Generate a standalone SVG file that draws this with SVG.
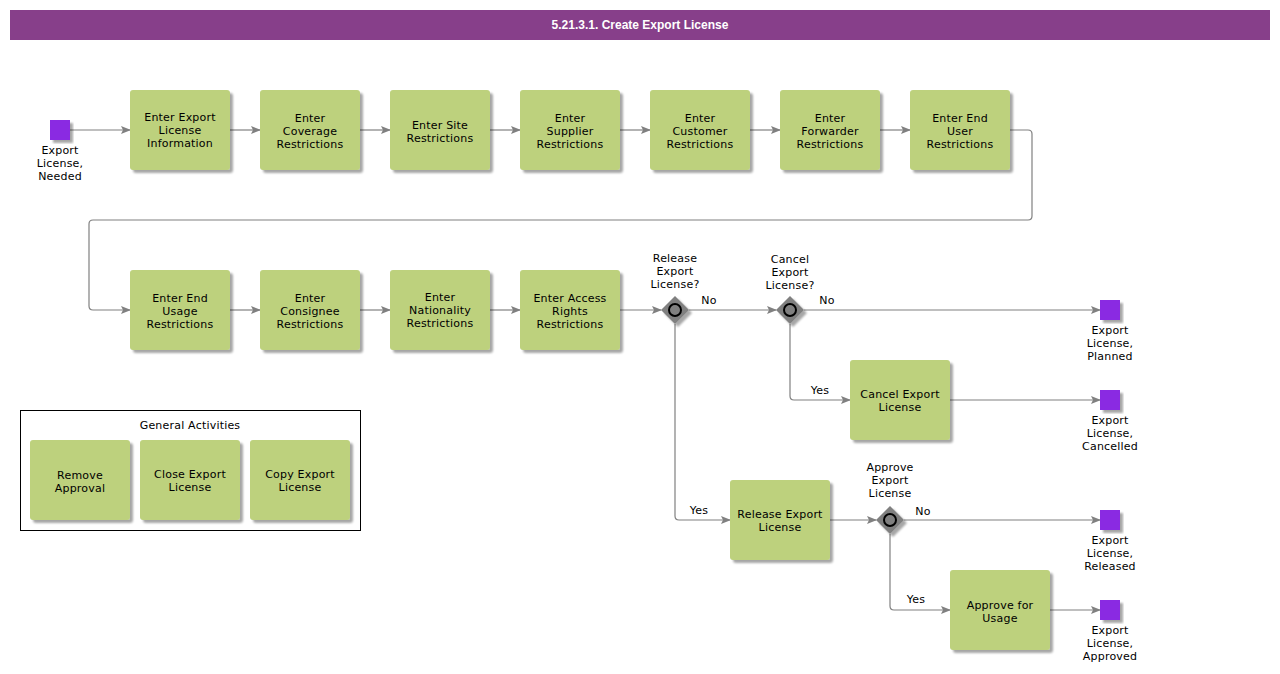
<svg xmlns="http://www.w3.org/2000/svg" width="1280" height="674" viewBox="0 0 1280 674">
<defs>
<marker id="arr" markerWidth="10" markerHeight="8" refX="9" refY="4" orient="auto" markerUnits="userSpaceOnUse">
<path d="M0,0 L10,4 L0,8 L2,4 Z" fill="#808080"/>
</marker>
<filter id="sh" x="-10%" y="-10%" width="130%" height="130%">
<feGaussianBlur in="SourceAlpha" stdDeviation="1.2"/>
<feOffset dx="3" dy="3" result="b"/>
<feComponentTransfer><feFuncA type="linear" slope="0.35"/></feComponentTransfer>
<feMerge><feMergeNode/><feMergeNode in="SourceGraphic"/></feMerge>
</filter>
</defs>
<style>
.task{fill:#BDD17D;filter:url(#sh)}
.ev{fill:#8A2BE2;filter:url(#sh)}
.gw{fill:#808080;filter:url(#sh)}
.gc{fill:none;stroke:#000;stroke-width:2}
.t{font-family:"DejaVu Sans",Verdana,sans-serif;font-size:11px;fill:#000;text-anchor:middle;letter-spacing:0.2px}
.c{fill:none;stroke:#808080;stroke-width:1.2;marker-end:url(#arr)}
.title{font-family:"Liberation Sans",Arial,sans-serif;font-size:12px;font-weight:bold;fill:#fff;text-anchor:middle}
</style>
<rect width="1280" height="674" fill="#fff"/>
<g id="header">
<rect x="10" y="10" width="1260" height="30" fill="#873F8A"/>
<text class="title" x="640" y="29">5.21.3.1. Create Export License</text>
</g>
<g id="connectors">
<path class="c" d="M70,130 H130"/>
<path class="c" d="M230,130 H260"/>
<path class="c" d="M360,130 H390"/>
<path class="c" d="M490,130 H520"/>
<path class="c" d="M620,130 H650"/>
<path class="c" d="M750,130 H780"/>
<path class="c" d="M880,130 H910"/>
<path class="c" d="M1010,130 H1028 Q1032,130 1032,134 V216 Q1032,220 1028,220 H93 Q89,220 89,224 V306 Q89,310 93,310 H130"/>
<path class="c" d="M230,310 H260"/>
<path class="c" d="M360,310 H390"/>
<path class="c" d="M490,310 H520"/>
<path class="c" d="M620,310 H661"/>
<path class="c" d="M689,310 H776"/>
<path class="c" d="M804,310 H1100"/>
<path class="c" d="M790,324 V396 Q790,400 794,400 H850"/>
<path class="c" d="M950,400 H1100"/>
<path class="c" d="M675,324 V516 Q675,520 679,520 H730"/>
<path class="c" d="M830,520 H876"/>
<path class="c" d="M904,520 H1100"/>
<path class="c" d="M890,534 V606 Q890,610 894,610 H950"/>
<path class="c" d="M1050,610 H1100"/>
<text class="t" x="709" y="304">No</text>
<text class="t" x="827" y="304">No</text>
<text class="t" x="820" y="394">Yes</text>
<text class="t" x="699" y="514">Yes</text>
<text class="t" x="923" y="515">No</text>
<text class="t" x="916" y="603">Yes</text>
</g>
<g id="start">
<rect class="ev" x="50" y="120" width="20" height="20"/>
<text class="t" x="60" y="154">Export</text>
<text class="t" x="60" y="167">License,</text>
<text class="t" x="60" y="180">Needed</text>
</g>
<g id="t1"><rect class="task" x="130" y="90" width="100" height="80" rx="3"/>
<text class="t" x="180" y="121">Enter Export</text><text class="t" x="180" y="134">License</text><text class="t" x="180" y="147">Information</text></g>
<g id="t2"><rect class="task" x="260" y="90" width="100" height="80" rx="3"/>
<text class="t" x="310" y="122">Enter</text><text class="t" x="310" y="135">Coverage</text><text class="t" x="310" y="148">Restrictions</text></g>
<g id="t3"><rect class="task" x="390" y="90" width="100" height="80" rx="3"/>
<text class="t" x="440" y="129">Enter Site</text><text class="t" x="440" y="142">Restrictions</text></g>
<g id="t4"><rect class="task" x="520" y="90" width="100" height="80" rx="3"/>
<text class="t" x="570" y="122">Enter</text><text class="t" x="570" y="135">Supplier</text><text class="t" x="570" y="148">Restrictions</text></g>
<g id="t5"><rect class="task" x="650" y="90" width="100" height="80" rx="3"/>
<text class="t" x="700" y="122">Enter</text><text class="t" x="700" y="135">Customer</text><text class="t" x="700" y="148">Restrictions</text></g>
<g id="t6"><rect class="task" x="780" y="90" width="100" height="80" rx="3"/>
<text class="t" x="830" y="122">Enter</text><text class="t" x="830" y="135">Forwarder</text><text class="t" x="830" y="148">Restrictions</text></g>
<g id="t7"><rect class="task" x="910" y="90" width="100" height="80" rx="3"/>
<text class="t" x="960" y="122">Enter End</text><text class="t" x="960" y="135">User</text><text class="t" x="960" y="148">Restrictions</text></g>
<g id="t8"><rect class="task" x="130" y="270" width="100" height="80" rx="3"/>
<text class="t" x="180" y="302">Enter End</text><text class="t" x="180" y="315">Usage</text><text class="t" x="180" y="328">Restrictions</text></g>
<g id="t9"><rect class="task" x="260" y="270" width="100" height="80" rx="3"/>
<text class="t" x="310" y="302">Enter</text><text class="t" x="310" y="315">Consignee</text><text class="t" x="310" y="328">Restrictions</text></g>
<g id="t10"><rect class="task" x="390" y="270" width="100" height="80" rx="3"/>
<text class="t" x="440" y="301">Enter</text><text class="t" x="440" y="314">Nationality</text><text class="t" x="440" y="327">Restrictions</text></g>
<g id="t11"><rect class="task" x="520" y="270" width="100" height="80" rx="3"/>
<text class="t" x="570" y="302">Enter Access</text><text class="t" x="570" y="315">Rights</text><text class="t" x="570" y="328">Restrictions</text></g>
<g id="g1"><path class="gw" d="M675,296 L689,310 L675,324 L661,310 Z"/><circle class="gc" cx="675" cy="310" r="6"/>
<text class="t" x="675" y="262">Release</text><text class="t" x="675" y="275">Export</text><text class="t" x="675" y="288">License?</text></g>
<g id="g2"><path class="gw" d="M790,296 L804,310 L790,324 L776,310 Z"/><circle class="gc" cx="790" cy="310" r="6"/>
<text class="t" x="790" y="263">Cancel</text><text class="t" x="790" y="276">Export</text><text class="t" x="790" y="289">License?</text></g>
<g id="e1"><rect class="ev" x="1100" y="300" width="20" height="20"/>
<text class="t" x="1110" y="334">Export</text><text class="t" x="1110" y="347">License,</text><text class="t" x="1110" y="360">Planned</text></g>
<g id="t12"><rect class="task" x="850" y="360" width="100" height="80" rx="3"/>
<text class="t" x="900" y="398">Cancel Export</text><text class="t" x="900" y="411">License</text></g>
<g id="e2"><rect class="ev" x="1100" y="390" width="20" height="20"/>
<text class="t" x="1110" y="424">Export</text><text class="t" x="1110" y="437">License,</text><text class="t" x="1110" y="450">Cancelled</text></g>
<g id="t13"><rect class="task" x="730" y="480" width="100" height="80" rx="3"/>
<text class="t" x="780" y="518">Release Export</text><text class="t" x="780" y="531">License</text></g>
<g id="g3"><path class="gw" d="M890,506 L904,520 L890,534 L876,520 Z"/><circle class="gc" cx="890" cy="520" r="6"/>
<text class="t" x="890" y="471">Approve</text><text class="t" x="890" y="484">Export</text><text class="t" x="890" y="497">License</text></g>
<g id="e3"><rect class="ev" x="1100" y="510" width="20" height="20"/>
<text class="t" x="1110" y="544">Export</text><text class="t" x="1110" y="557">License,</text><text class="t" x="1110" y="570">Released</text></g>
<g id="t14"><rect class="task" x="950" y="570" width="100" height="80" rx="3"/>
<text class="t" x="1000" y="609">Approve for</text><text class="t" x="1000" y="622">Usage</text></g>
<g id="e4"><rect class="ev" x="1100" y="600" width="20" height="20"/>
<text class="t" x="1110" y="634">Export</text><text class="t" x="1110" y="647">License,</text><text class="t" x="1110" y="660">Approved</text></g>
<g id="general">
<rect x="20.5" y="410.5" width="340" height="120" fill="#fff" stroke="#000" stroke-width="1"/>
<text class="t" x="190" y="429">General Activities</text>
<g id="ga1"><rect class="task" x="30" y="440" width="100" height="80" rx="3"/>
<text class="t" x="80" y="479">Remove</text><text class="t" x="80" y="492">Approval</text></g>
<g id="ga2"><rect class="task" x="140" y="440" width="100" height="80" rx="3"/>
<text class="t" x="190" y="478">Close Export</text><text class="t" x="190" y="491">License</text></g>
<g id="ga3"><rect class="task" x="250" y="440" width="100" height="80" rx="3"/>
<text class="t" x="300" y="478">Copy Export</text><text class="t" x="300" y="491">License</text></g>
</g>
</svg>
